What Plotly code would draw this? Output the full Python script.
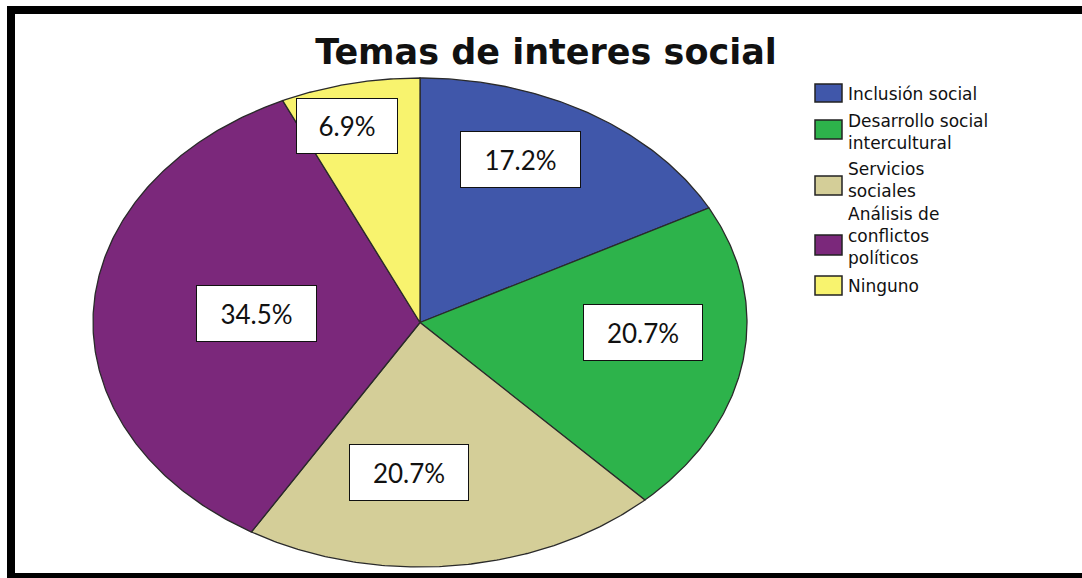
import numpy as np
import plotly.graph_objects as go

# ---- data ----
categories = ["Inclusión social", "Desarrollo social intercultural", "Servicios sociales",
              "Análisis de conflictos políticos", "Ninguno"]
counts = [5, 6, 6, 10, 2]
legend_lines = [["Inclusión social"], ["Desarrollo social", "intercultural"],
                ["Servicios", "sociales"], ["Análisis de", "conflictos", "políticos"], ["Ninguno"]]
title_text = "Temas de interes social"

# ---- style / layout ----
colors = ["#4057AA", "#2DB34B", "#D4CE98", "#7B287B", "#F8F36E"]
W, H = 1082, 578
cx, cy, rx, ry = 420.0, 322.5, 327.0, 244.5   # pie centre / radii in pixels


def px_x(x):
    return (x - cx) / rx


def px_y(y):
    return (cy - y) / ry


# label box centres (pixels) and sizes
label_pos_px = [(520.5, 159.5), (643, 332), (409, 472), (256.5, 313), (347, 125.5)]
label_size = [(121, 57), (120, 57), (120, 57), (121, 57), (102, 56)]
# legend geometry (pixels)
swatch_y = [(84, 102), (120, 139), (176, 195), (235, 255), (276, 295)]
legend_item_y = [94, 132, 180, 236, 286]

total = sum(counts)
fig = go.Figure()
start = 0.0
for cat, c, col in zip(categories, counts, colors):
    frac = c / total
    a = np.linspace(start, start + frac, max(int(frac * 720), 8)) * 2 * np.pi
    xs = np.concatenate([[0], np.sin(a), [0]])
    ys = np.concatenate([[0], np.cos(a), [0]])
    fig.add_trace(go.Scatter(x=xs, y=ys, mode="lines", fill="toself", fillcolor=col,
                             line=dict(color="#2a2a2a", width=1.3), name=cat,
                             hoverinfo="name", showlegend=False))
    start += frac

annotations = []
for c, (lx, ly), (bw, bh) in zip(counts, label_pos_px, label_size):
    annotations.append(dict(x=px_x(lx), y=px_y(ly), xref="x", yref="y",
                            text=f"{100 * c / total:.1f}%", showarrow=False,
                            font=dict(family="Lato", size=26, color="#111"),
                            bgcolor="white", bordercolor="#111", borderwidth=1,
                            borderpad=0, width=bw - 2, height=bh - 2,
                            xanchor="center", yanchor="middle"))

shapes = []
for col, (y0, y1), lines, yy in zip(colors, swatch_y, legend_lines, legend_item_y):
    shapes.append(dict(type="rect", xref="paper", yref="paper",
                       x0=815 / W, x1=842 / W, y0=1 - y1 / H, y1=1 - y0 / H,
                       fillcolor=col, line=dict(color="#222", width=1.5)))
    annotations.append(dict(x=846 / W, y=1 - yy / H, xref="paper", yref="paper",
                            text="<br>".join(lines), showarrow=False, align="left",
                            xanchor="left", yanchor="middle",
                            font=dict(family="DejaVu Sans", size=17, color="#111")))

# frame (left, top, bottom edges; the right edge lies outside the picture)
frame = dict(xref="paper", yref="paper", line=dict(color="black", width=8))
shapes.append(dict(type="line", x0=11 / W, x1=11 / W, y0=1 - 580 / H, y1=1 - 6 / H, **frame))
shapes.append(dict(type="line", x0=7 / W, x1=1.0, y0=1 - 10 / H, y1=1 - 10 / H, **frame))
shapes.append(dict(type="line", x0=7 / W, x1=1.0, y0=1 - 577 / H, y1=1 - 577 / H, **frame))

fig.update_layout(
    width=W, height=H, margin=dict(l=0, r=0, t=0, b=0),
    paper_bgcolor="white", plot_bgcolor="white",
    title=dict(text=f"<b>{title_text}</b>", x=546 / W, y=1 - 52 / H,
               xanchor="center", yanchor="middle",
               font=dict(family="DejaVu Sans", size=35, color="#111")),
    xaxis=dict(range=[px_x(0), px_x(W)], visible=False, fixedrange=True),
    yaxis=dict(range=[px_y(H), px_y(0)], visible=False, fixedrange=True),
    annotations=annotations, shapes=shapes, showlegend=False,
)

fig.write_html("out.html", config={"displayModeBar": False},
               post_script="document.body.style.margin='0';document.body.style.overflow='hidden';")
